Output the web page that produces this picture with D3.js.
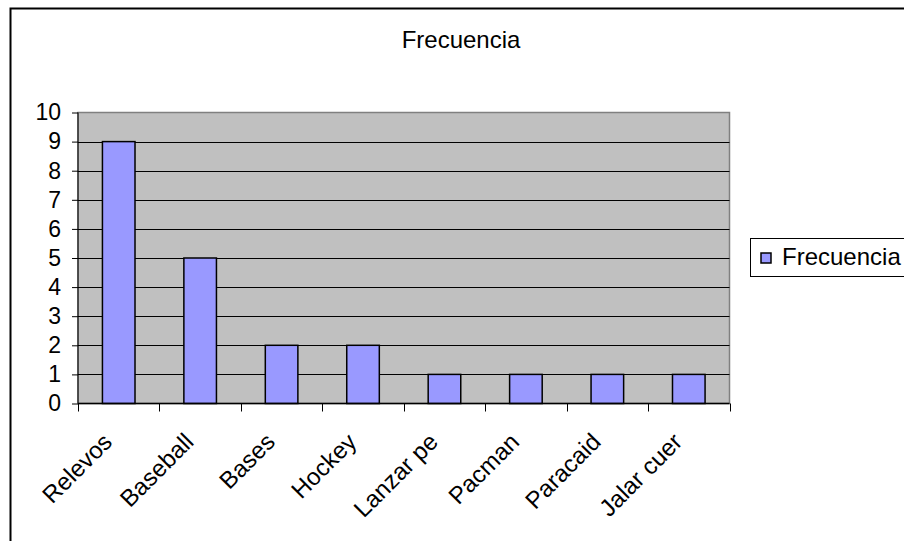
<!DOCTYPE html>
<html><head><meta charset="utf-8">
<script src="https://cdn.jsdelivr.net/npm/d3@7"></script>
<style>body{margin:0;background:#fff}svg{display:block;font-family:"Liberation Sans",Arial,sans-serif}</style>
</head><body><svg id="c" width="904" height="541"></svg>
<script>
const categories = ["Relevos","Baseball","Bases","Hockey","Lanzar pe","Pacman","Paracaid","Jalar cuer"];
const values = [9,5,2,2,1,1,1,1];
const yTicks = [0,1,2,3,4,5,6,7,8,9,10];
const seriesName = "Frecuencia";
const titleText = "Frecuencia";

const svg = d3.select("#c");
const plot = {left:78, right:729.5, top:112.5, bottom:403.5};

// outer border
svg.append("rect").attr("x",10.5).attr("y",8.5).attr("width",910).attr("height",560)
  .attr("fill","#fff").attr("stroke","#000").attr("stroke-width",2);

const x = d3.scaleBand().domain(categories).range([plot.left, plot.right]).paddingInner(0.6).paddingOuter(0.3);
const xb = d3.scaleBand().domain(categories).range([plot.left, plot.right]);
const y = d3.scaleLinear().domain([0,10]).range([plot.bottom, plot.top]);

// plot background
svg.append("rect").attr("x",plot.left).attr("y",plot.top)
  .attr("width",plot.right-plot.left).attr("height",plot.bottom-plot.top)
  .attr("fill","#c0c0c0").attr("stroke","#808080").attr("stroke-width",1.5);

// gridlines
svg.append("g").selectAll("line").data(yTicks.filter(t=>t>0 && t<10)).join("line")
  .attr("x1",plot.left).attr("x2",plot.right)
  .attr("y1",d=>Math.round(y(d))+0.5).attr("y2",d=>Math.round(y(d))+0.5)
  .attr("stroke","#000").attr("stroke-width",1);

// bars
svg.append("g").selectAll("rect").data(values).join("rect")
  .attr("x",(d,i)=>x(categories[i]))
  .attr("width",x.bandwidth())
  .attr("y",d=>y(d)).attr("height",d=>y(0)-y(d))
  .attr("fill","#9999ff").attr("stroke","#000").attr("stroke-width",1.5);

// y axis
const yAxis = d3.axisLeft(y).tickValues(yTicks).tickSize(6).tickPadding(11).tickFormat(d3.format("d"));
const gy = svg.append("g").attr("transform",`translate(${plot.left},0)`).call(yAxis);
gy.select(".domain").attr("stroke","#000").attr("d",`M0,${plot.top}V${plot.bottom}`);
gy.selectAll(".tick line").attr("stroke","#000");
gy.selectAll("text").attr("font-size",23).attr("fill","#000").attr("font-family","Liberation Sans, Arial, sans-serif");

// x axis
const xTickPos = categories.map(c=>xb(c)).concat([plot.right]);
const gx = svg.append("g");
gx.append("line").attr("x1",plot.left).attr("x2",plot.right).attr("y1",plot.bottom).attr("y2",plot.bottom).attr("stroke","#000").attr("stroke-width",1.5);
gx.selectAll("line.t").data(xTickPos).join("line").attr("class","t")
  .attr("x1",d=>Math.round(d)+0.5).attr("x2",d=>Math.round(d)+0.5)
  .attr("y1",plot.bottom).attr("y2",plot.bottom+8).attr("stroke","#000");
gx.selectAll("text").data(categories).join("text")
  .attr("transform",d=>`translate(${xb(d)+xb.bandwidth()/2-17},${plot.bottom+28}) rotate(-45)`)
  .attr("text-anchor","end").attr("dy","0.7em")
  .attr("font-size",24).attr("fill","#000").text(d=>d);

// title
svg.append("text").attr("x",461).attr("y",48).attr("text-anchor","middle")
  .attr("font-size",24).attr("fill","#000").text(titleText);

// legend
const lg = svg.append("g");
lg.append("rect").attr("x",750.5).attr("y",238.5).attr("width",170).attr("height",38)
  .attr("fill","#fff").attr("stroke","#000").attr("stroke-width",1);
lg.append("rect").attr("x",761).attr("y",253).attr("width",10).attr("height",10)
  .attr("fill","#9999ff").attr("stroke","#000").attr("stroke-width",1.5);
lg.append("text").attr("x",782).attr("y",265).attr("font-size",24).attr("fill","#000").text(seriesName);
</script></body></html>
